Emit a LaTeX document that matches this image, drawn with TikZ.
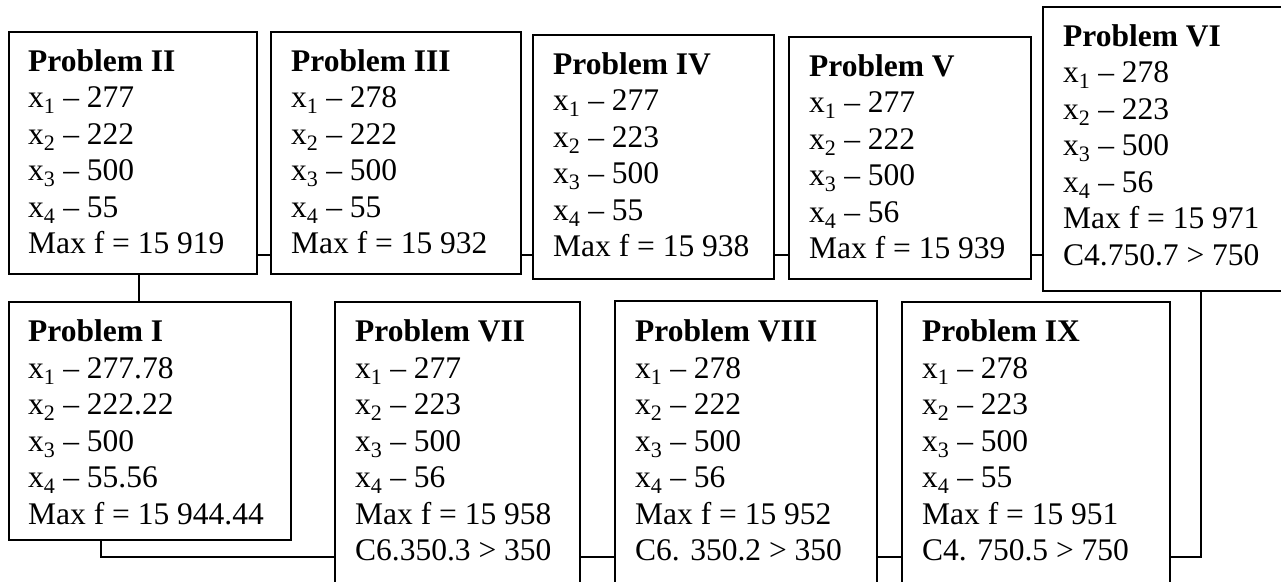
\documentclass[tikz,border=0pt]{standalone}
\usepackage{fontspec}
\setmainfont{Liberation Serif}
\newcommand\xs[1]{x\textsubscript{#1}}
\newcommand\probtab[1]{\begin{tabular}[t]{@{}l@{}}#1\end{tabular}}
\begin{document}
\begin{tikzpicture}[x=1pt,y=-1pt,
  box/.style={draw=black,line width=1.8pt,inner sep=0pt,anchor=north west},
  txt/.style={inner sep=0pt,anchor=north west,font=\fontsize{31.5}{36.5}\selectfont},
  link/.style={draw=black,line width=1.8pt}]
\useasboundingbox (0,0) rectangle (1281,581);
\clip (0,0) rectangle (1281,581);
% top row
\node[box,minimum width=248pt,minimum height=242pt] (II)   at (8,31) {};
\node[box,minimum width=250pt,minimum height=242pt] (III)  at (270,31) {};
\node[box,minimum width=241pt,minimum height=244pt] (IV)   at (532,34) {};
\node[box,minimum width=242pt,minimum height=242pt] (V)    at (788,36) {};
\node[box,minimum width=250pt,minimum height=284pt] (VI)   at (1042,6) {};
% bottom row
\node[box,minimum width=282pt,minimum height=238pt] (I)    at (8,301) {};
\node[box,minimum width=245pt,minimum height=330pt] (VII)  at (334,301) {};
\node[box,minimum width=262pt,minimum height=330pt] (VIII) at (614,300) {};
\node[box,minimum width=268pt,minimum height=330pt] (IX)   at (901,301) {};
% texts
\node[txt] (tII) at ([xshift=20pt,yshift=-14.5pt]II.north west) {\probtab{\textbf{Problem II}\\ \xs1 – 277\\ \xs2 – 222\\ \xs3 – 500\\ \xs4 – 55\\ Max f = 15 919}};
\node[txt] (tIII) at ([xshift=21pt,yshift=-14.5pt]III.north west) {\probtab{\textbf{Problem III}\\ \xs1 – 278\\ \xs2 – 222\\ \xs3 – 500\\ \xs4 – 55\\ Max f = 15 932}};
\node[txt] (tIV) at ([xshift=21pt,yshift=-14.5pt]IV.north west) {\probtab{\textbf{Problem IV}\\ \xs1 – 277\\ \xs2 – 223\\ \xs3 – 500\\ \xs4 – 55\\ Max f = 15 938}};
\node[txt] (tV) at ([xshift=21pt,yshift=-14.5pt]V.north west) {\probtab{\textbf{Problem V}\\ \xs1 – 277\\ \xs2 – 222\\ \xs3 – 500\\ \xs4 – 56\\ Max f = 15 939}};
\node[txt] (tVI) at ([xshift=21pt,yshift=-14.5pt]VI.north west) {\probtab{\textbf{Problem VI}\\ \xs1 – 278\\ \xs2 – 223\\ \xs3 – 500\\ \xs4 – 56\\ Max f = 15 971\\ C4.750.7 > 750}};
\node[txt] (tI) at ([xshift=20pt,yshift=-15pt]I.north west) {\probtab{\textbf{Problem I}\\ \xs1 – 277.78\\ \xs2 – 222.22\\ \xs3 – 500\\ \xs4 – 55.56\\ Max f = 15 944.44}};
\node[txt] (tVII) at ([xshift=21pt,yshift=-15pt]VII.north west) {\probtab{\textbf{Problem VII}\\ \xs1 – 277\\ \xs2 – 223\\ \xs3 – 500\\ \xs4 – 56\\ Max f = 15 958\\ C6.350.3 > 350}};
\node[txt] (tVIII) at ([xshift=21pt,yshift=-16pt]VIII.north west) {\probtab{\textbf{Problem VIII}\\ \xs1 – 278\\ \xs2 – 222\\ \xs3 – 500\\ \xs4 – 56\\ Max f = 15 952\\ C6. 350.2 > 350}};
\node[txt] (tIX) at ([xshift=21pt,yshift=-15pt]IX.north west) {\probtab{\textbf{Problem IX}\\ \xs1 – 278\\ \xs2 – 223\\ \xs3 – 500\\ \xs4 – 55\\ Max f = 15 951\\ C4. 750.5 > 750}};
% rails
\coordinate (topline) at (0,255);
\coordinate (botline) at (0,557);
% connectors
\draw[link] (II.east |- topline) -- (III.west |- topline);
\draw[link] (III.east |- topline) -- (IV.west |- topline);
\draw[link] (IV.east |- topline) -- (V.west |- topline);
\draw[link] (V.east |- topline) -- (VI.west |- topline);
\draw[link] ([xshift=6pt]II.south) -- ([xshift=6pt]II.south |- I.north);
\draw[link] ([xshift=-49pt]I.south) |- (VII.west |- botline);
\draw[link] (VII.east |- botline) -- (VIII.west |- botline);
\draw[link] (VIII.east |- botline) -- (IX.west |- botline);
\draw[link] (IX.east |- botline) -| ([xshift=159pt]VI.south west);
\end{tikzpicture}
\end{document}
